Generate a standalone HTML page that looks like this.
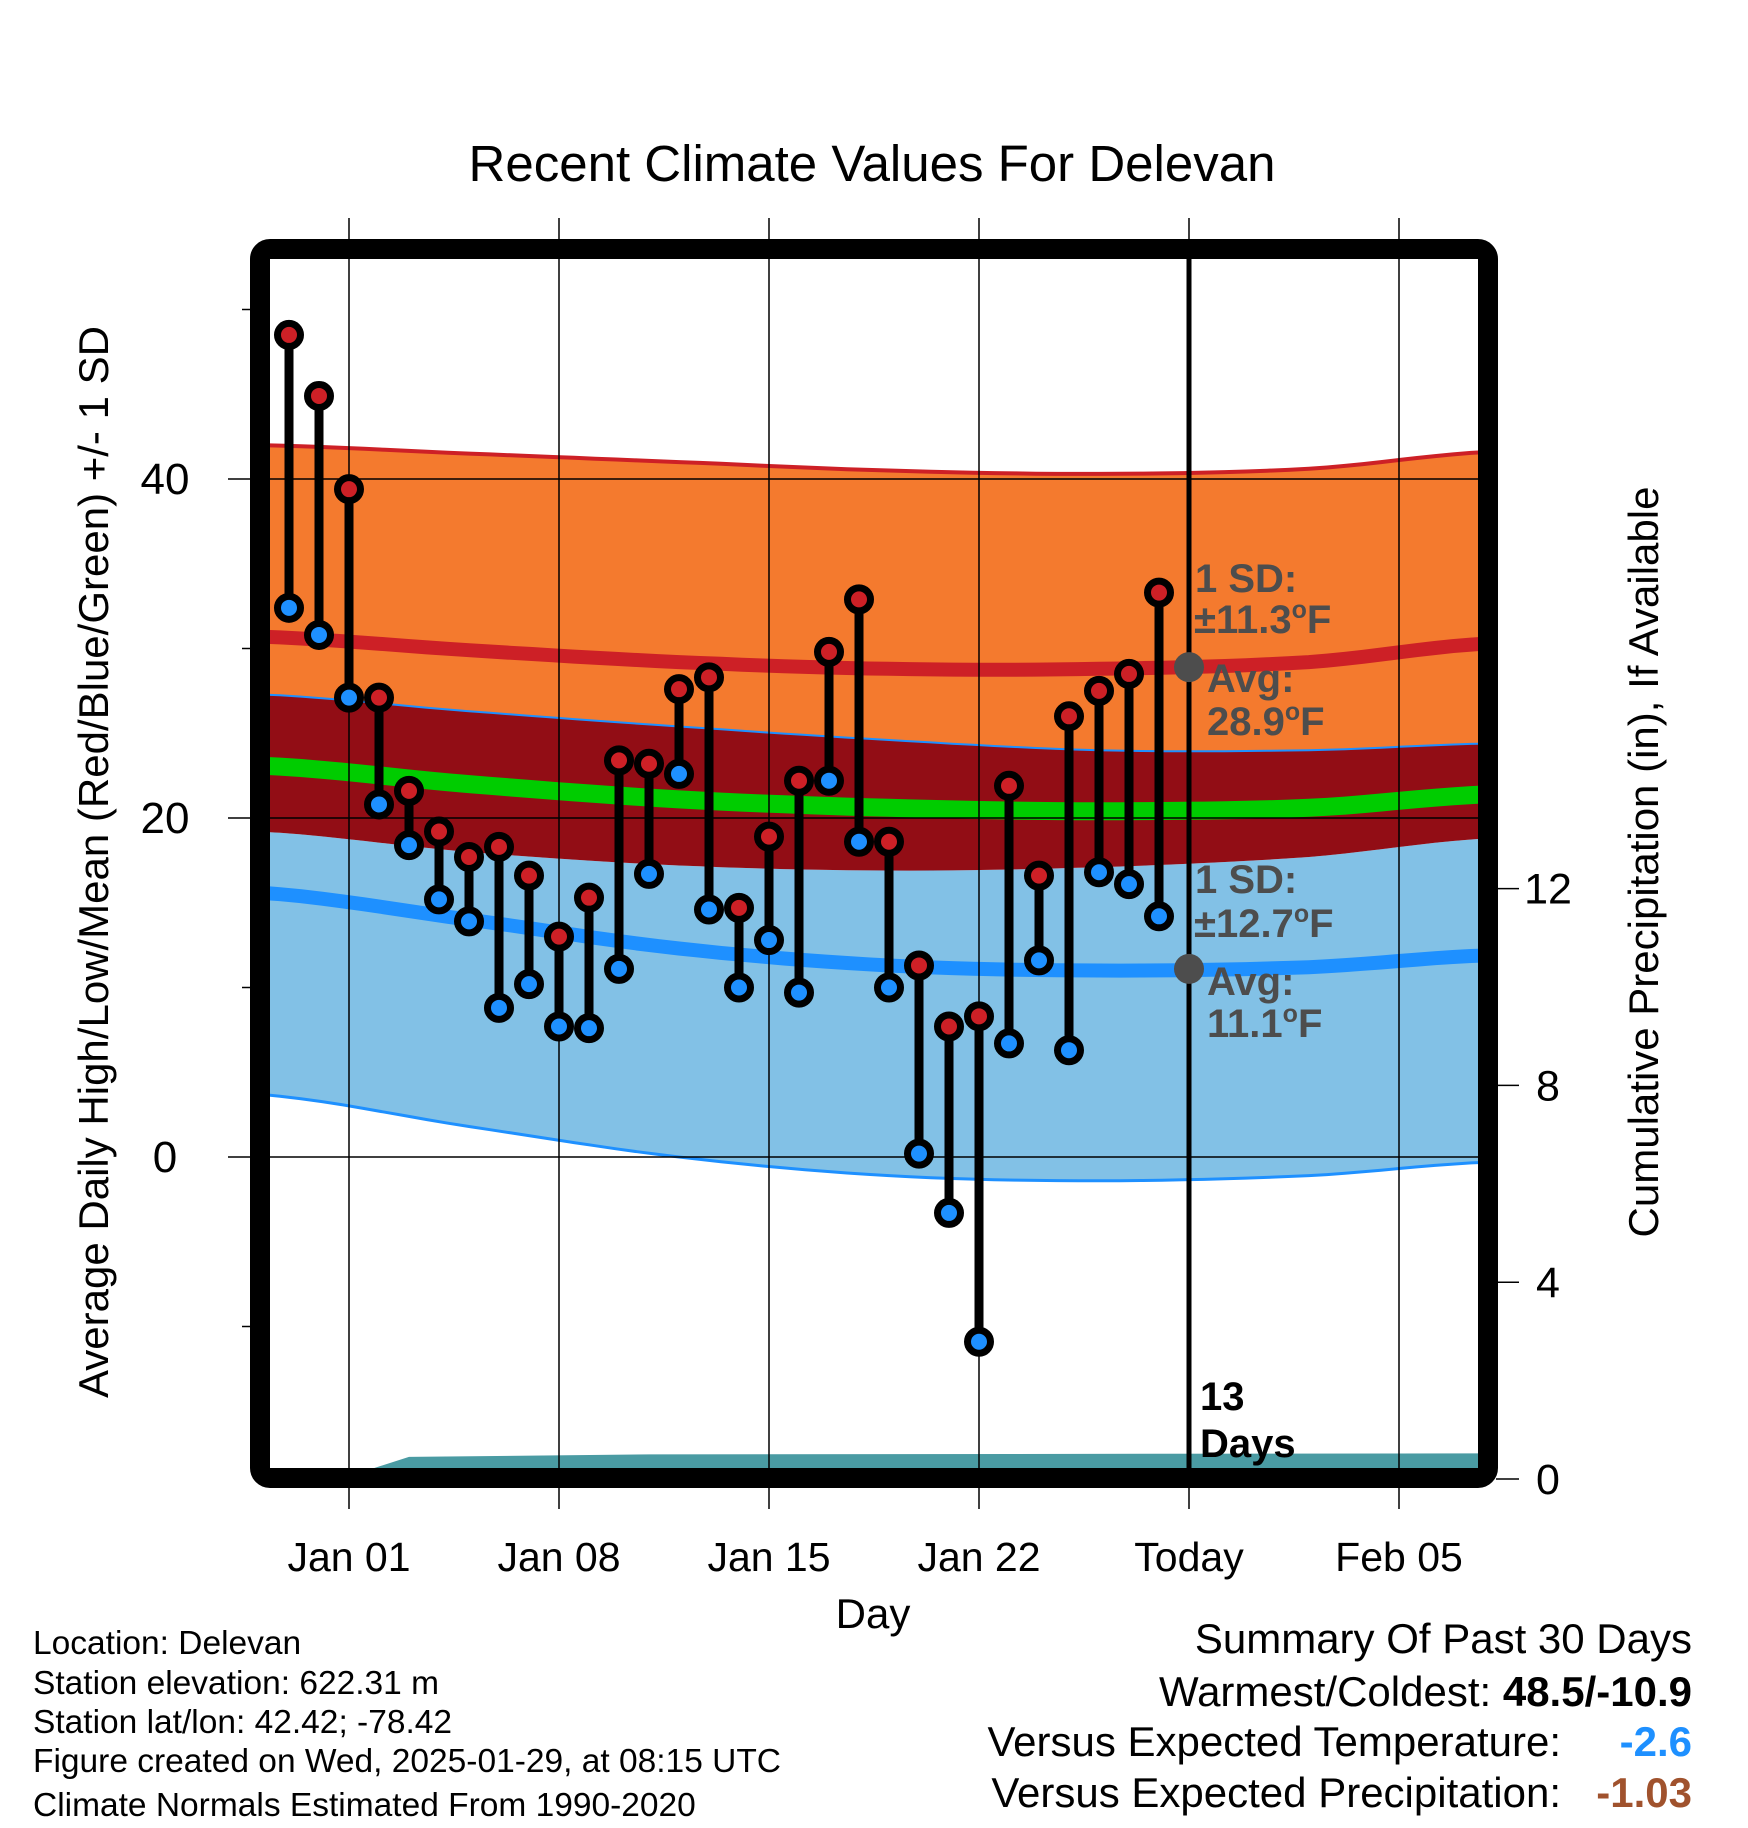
<!DOCTYPE html>
<html><head><meta charset="utf-8"><style>
html,body{margin:0;padding:0;background:#fff;}
svg{display:block;font-family:"Liberation Sans",Arial,sans-serif;}
</style></head><body>
<svg id="chart" width="1748" height="1828" viewBox="0 0 1748 1828" xmlns="http://www.w3.org/2000/svg">
<defs><clipPath id="plotclip"><rect x="270" y="259" width="1208" height="1209"/></clipPath></defs>
<g id="plot" clip-path="url(#plotclip)"></g>
<g id="over"></g>
<rect x="260" y="249" width="1228" height="1229" rx="10" fill="none" stroke="#000" stroke-width="20"/>
<text x="872" y="181" font-size="51" text-anchor="middle">Recent Climate Values For Delevan</text>
<text transform="translate(108,862) rotate(-90)" font-size="42" text-anchor="middle">Average Daily High/Low/Mean (Red/Blue/Green) +/- 1 SD</text>
<text transform="translate(1658,862) rotate(-90)" font-size="42" text-anchor="middle">Cumulative Precipitation (in), If Available</text>
<text x="873" y="1628" font-size="42" text-anchor="middle">Day</text>
<g font-size="33.5">
<text x="33" y="1654">Location: Delevan</text>
<text x="33" y="1694">Station elevation: 622.31 m</text>
<text x="33" y="1733">Station lat/lon: 42.42; -78.42</text>
<text x="33" y="1772">Figure created on Wed, 2025-01-29, at 08:15 UTC</text>
<text x="33" y="1816">Climate Normals Estimated From 1990-2020</text>
</g>
<g font-size="42" text-anchor="end">
<text x="1692" y="1653">Summary Of Past 30 Days</text>
<text x="1692" y="1706">Warmest/Coldest: <tspan font-weight="bold">48.5/-10.9</tspan></text>
<text x="1561" y="1756">Versus Expected Temperature:</text>
<text x="1692" y="1756" fill="#1e90ff" font-weight="bold">-2.6</text>
<text x="1561" y="1807">Versus Expected Precipitation:</text>
<text x="1692" y="1807" fill="#a0522d" font-weight="bold">-1.03</text>
</g>
<g font-size="40" font-weight="bold" fill="#4d4d4d">
<text x="1195" y="592">1 SD:</text>
<text x="1194" y="633">±11.3<tspan font-size="25" dy="-15">o</tspan><tspan dy="15">F</tspan></text>
<text x="1207" y="692">Avg:</text>
<text x="1207" y="735">28.9<tspan font-size="25" dy="-15">o</tspan><tspan dy="15">F</tspan></text>
<text x="1195" y="893">1 SD:</text>
<text x="1194" y="937">±12.7<tspan font-size="25" dy="-15">o</tspan><tspan dy="15">F</tspan></text>
<text x="1207" y="995">Avg:</text>
<text x="1207" y="1037">11.1<tspan font-size="25" dy="-15">o</tspan><tspan dy="15">F</tspan></text>
</g>
<g font-size="40" font-weight="bold">
<text x="1200" y="1410">13</text>
<text x="1200" y="1457">Days</text>
</g>
</svg>
<script>
const normDays=[-3,4,11,18,25,32,38];
const upSDHigh=[42.0,41.5,41.0,40.5,40.3,40.6,41.6];
const highMean=[30.7,29.9,29.2,28.8,28.8,29.2,30.3];
const loSDHigh=[27.3,26.3,25.4,24.6,24.0,24.0,24.4];
const meanT=[23.1,22.0,21.1,20.6,20.4,20.6,21.4];
const upSDLow=[19.2,18.0,17.2,16.9,17.1,17.7,18.8];
const lowMean=[15.6,14.0,12.3,11.3,11.0,11.2,11.9];
const loSDLow=[3.7,1.8,0.0,-1.1,-1.4,-1.1,-0.3];
const precipDays=[-3,-0.3,2,10,38];
const precipVals=[0,0,0.45,0.5,0.52];
const obsDays=[-2,-1,0,1,2,3,4,5,6,7,8,9,10,11,12,13,14,15,16,17,18,19,20,21,22,23,24,25,26,27];
const highs=[48.5,44.9,39.4,27.1,21.6,19.2,17.7,18.3,16.6,13.0,15.3,23.4,23.2,27.6,28.3,14.7,18.9,22.2,29.8,32.9,18.6,11.3,7.7,8.3,21.9,16.6,26.0,27.5,28.5,33.3];
const lows=[32.4,30.8,27.1,20.8,18.4,15.2,13.9,8.8,10.2,7.7,7.6,11.1,16.7,22.6,14.6,10.0,12.8,9.7,22.2,18.6,10.0,0.2,-3.3,-10.9,6.7,11.6,6.3,16.8,16.1,14.2];
const xTickDays=[0,7,14,21,28,35];
const xTickLabels=["Jan 01","Jan 08","Jan 15","Jan 22","Today","Feb 05"];
const yMajor=[0,20,40];
const yMinor=[-10,10,30,50];
const y2Ticks=[0,4,8,12];

const NS="http://www.w3.org/2000/svg";
const X=d=>349+d*30;
const Y=v=>1157-v*16.95;
const Y2=v=>1479-v*49.2;
const plot=document.getElementById('plot');
const over=document.getElementById('over');
const svg=document.getElementById('chart');
function mk(tag,attrs,parent){const e=document.createElementNS(NS,tag);for(const k in attrs)e.setAttribute(k,attrs[k]);parent.appendChild(e);return e;}
function pts(ds,vs,yf){return ds.map((d,i)=>X(d).toFixed(1)+','+(yf||Y)(vs[i]).toFixed(1));}
function smooth(vs){
  const out=[];const n=normDays.length;
  for(let i=0;i<n-1;i++){
    const p0=vs[Math.max(i-1,0)],p1=vs[i],p2=vs[i+1],p3=vs[Math.min(i+2,n-1)];
    const d1=normDays[i],d2=normDays[i+1];
    for(let s=0;s<10;s++){const t=s/10;
      const v=0.5*((2*p1)+(-p0+p2)*t+(2*p0-5*p1+4*p2-p3)*t*t+(-p0+3*p1-3*p2+p3)*t*t*t);
      out.push([X(d1+(d2-d1)*t),Y(v)]);}
  }
  out.push([X(normDays[n-1]),Y(vs[n-1])]);
  return out;
}
function ptsStr(a){return a.map(p=>p[0].toFixed(1)+','+p[1].toFixed(1));}
function band(top,bot){return 'M'+ptsStr(smooth(top)).join(' L')+' L'+ptsStr(smooth(bot)).reverse().join(' L')+' Z';}
function curve(vs){return ptsStr(smooth(vs)).join(' ');}

let e;
e=mk('path',{d:band(upSDHigh,loSDHigh),fill:'#f47a2e'},plot);


e=mk('path',{d:band(upSDLow,loSDLow),fill:'#82c1e6'},plot);


e=mk('path',{d:band(loSDHigh,upSDLow),fill:'#920d15'},plot);


e=mk('polyline',{points:curve(upSDHigh),fill:'none',stroke:'#cd2026','stroke-width':4},plot);


e=mk('polyline',{points:curve(loSDHigh),fill:'none',stroke:'#1e90ff','stroke-width':2},plot);


e=mk('polyline',{points:curve(loSDLow),fill:'none',stroke:'#1e90ff','stroke-width':3},plot);


e=mk('polyline',{points:curve(highMean),fill:'none',stroke:'#cd2026','stroke-width':14},plot);


e=mk('polyline',{points:curve(meanT),fill:'none',stroke:'#00cc00','stroke-width':18},plot);


e=mk('polyline',{points:curve(lowMean),fill:'none',stroke:'#1e90ff','stroke-width':14},plot);


e=mk('path',{d:'M'+pts(precipDays,precipVals,Y2).join(' L')+' L'+X(38)+','+Y2(0)+' L'+X(-3)+','+Y2(0)+' Z',fill:'#4a9ba3'},plot);



const gridG=svg.insertBefore(document.createElementNS(NS,'g'),plot.nextSibling);
xTickDays.forEach((d,i)=>{
  let g=mk('line',{x1:X(d),x2:X(d),y1:218,y2:1509,stroke:'#000','stroke-width':1.5},gridG);
  
  
  let t=mk('text',{x:X(d),y:1571,'font-size':41,'text-anchor':'middle'},svg);
  t.textContent=xTickLabels[i];
  
  
});
yMajor.forEach(v=>{
  let g=mk('line',{x1:228,x2:1478,y1:Y(v),y2:Y(v),stroke:'#000','stroke-width':1.5},gridG);
  
  
  let t=mk('text',{x:165,y:Y(v)+15,'font-size':44,'text-anchor':'middle'},svg);
  t.textContent=v;
  
  
});
yMinor.forEach(v=>{
  let g=mk('line',{x1:242,x2:252,y1:Y(v),y2:Y(v),stroke:'#000','stroke-width':1.5},svg);
  
  
});
y2Ticks.forEach(v=>{
  let g=mk('line',{x1:1496,x2:1519,y1:Y2(v),y2:Y2(v),stroke:'#000','stroke-width':1.5},svg);
  
  
  let t=mk('text',{x:1548,y:Y2(v)+15,'font-size':43,'text-anchor':'middle'},svg);
  t.textContent=v;
  
  
});

e=mk('line',{x1:X(28),x2:X(28),y1:259,y2:1468,stroke:'#000','stroke-width':5},over);



obsDays.forEach((d,i)=>{
  let s=mk('line',{x1:X(d),x2:X(d),y1:Y(highs[i]),y2:Y(lows[i]),stroke:'#000','stroke-width':9},over);
  
  
});
obsDays.forEach((d,i)=>{
  let c=mk('circle',{cx:X(d),cy:Y(highs[i]),r:11.5,fill:'#cd2026',stroke:'#000','stroke-width':7},over);
  
  
  let c2=mk('circle',{cx:X(d),cy:Y(lows[i]),r:11.5,fill:'#1e90ff',stroke:'#000','stroke-width':7},over);
  
  
});
e=mk('circle',{cx:X(28),cy:Y(28.9),r:15,fill:'#4d4d4d'},over);


e=mk('circle',{cx:X(28),cy:Y(11.1),r:15,fill:'#4d4d4d'},over);


</script>
</body></html>
